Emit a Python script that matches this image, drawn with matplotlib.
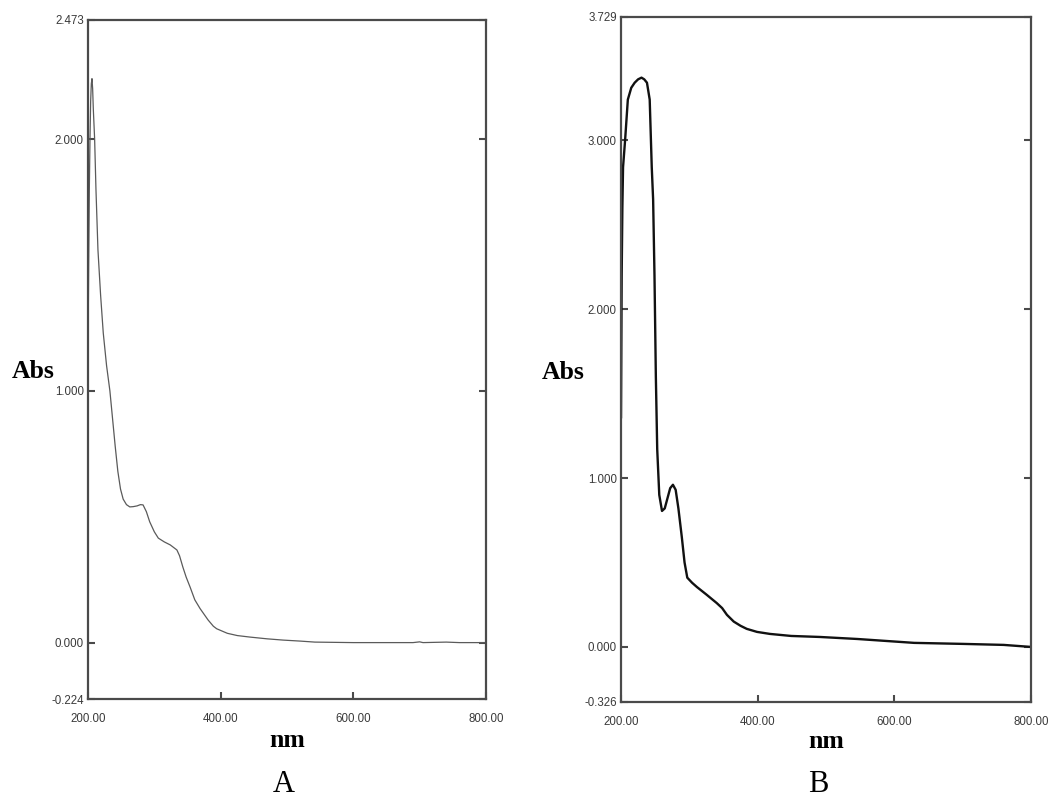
import matplotlib
matplotlib.use("Agg")
import matplotlib.pyplot as plt
from matplotlib.ticker import FixedLocator, FormatStrFormatter

# ---------------- data ----------------
wl_a = [200, 201, 202, 203, 204, 205, 206, 207, 208, 210, 212, 215, 219, 223, 228,
        233, 237, 241, 245, 249, 253, 258, 263, 268, 274, 279, 283, 288, 293, 300,
        306, 315, 324, 334, 338, 343, 348, 354, 361, 369, 381, 389, 394, 410, 425,
        444, 470, 494, 520, 542, 600, 690, 700, 705, 740, 760, 800]
abs_a = [1.15, 1.50, 1.80, 2.00, 2.15, 2.22, 2.24, 2.20, 2.12, 2.00, 1.80, 1.56, 1.38, 1.23, 1.10,
         1.00, 0.89, 0.78, 0.68, 0.61, 0.57, 0.548, 0.539, 0.540, 0.543, 0.548, 0.547, 0.52, 0.48, 0.44,
         0.415, 0.40, 0.388, 0.368, 0.345, 0.30, 0.26, 0.22, 0.17, 0.135, 0.09, 0.065, 0.055, 0.037, 0.028,
         0.022, 0.015, 0.010, 0.006, 0.002, 0.0, 0.0, 0.003, 0.0, 0.002, 0.0, 0.0]

wl_b = [200, 201, 202, 203, 206, 210, 215, 220, 225, 230, 234, 238, 242, 245, 247,
        249, 251, 253, 256, 260, 264, 268, 272, 276, 280, 284, 289, 293, 297, 304,
        311, 325, 340, 348, 355, 365, 375, 384, 399, 418, 449, 491, 546, 629, 700,
        760, 790, 800]
abs_b = [1.36, 2.20, 2.60, 2.84, 3.00, 3.24, 3.31, 3.34, 3.36, 3.37, 3.36, 3.34, 3.24, 2.84, 2.65,
         2.20, 1.60, 1.17, 0.90, 0.805, 0.82, 0.88, 0.94, 0.96, 0.93, 0.82, 0.65, 0.50, 0.41, 0.38,
         0.355, 0.31, 0.26, 0.23, 0.19, 0.15, 0.125, 0.107, 0.089, 0.077, 0.065, 0.059, 0.047, 0.024, 0.018,
         0.012, 0.003, 0.0]

x_ticks = [200, 400, 600, 800]
ylim_a = (-0.224, 2.473)
yticks_a = [-0.224, 0.0, 1.0, 2.0, 2.473]
ylim_b = (-0.326, 3.729)
yticks_b = [-0.326, 0.0, 1.0, 2.0, 3.0, 3.729]

x_label = "nm"
y_label = "Abs"
panel_names = ["A", "B"]

# ---------------- figure ----------------
W, H = 1048, 798
fig = plt.figure(figsize=(W / 100, H / 100), dpi=100)
fig.patch.set_facecolor("white")

def fx(px):
    return px / W

def fy(py):
    return 1 - py / H

spine_col = "#4a4a4a"

def setup(ax, ylim, yticks):
    ax.set_xlim(200, 800)
    ax.set_ylim(*ylim)
    ax.xaxis.set_major_locator(FixedLocator(x_ticks))
    ax.yaxis.set_major_locator(FixedLocator(yticks))
    ax.xaxis.set_major_formatter(FormatStrFormatter("%.2f"))
    ax.yaxis.set_major_formatter(FormatStrFormatter("%.3f"))
    ax.tick_params(axis="both", direction="in", length=5, width=1.5, color=spine_col,
                   labelcolor="#3a3a3a", labelsize=8.3)
    ax.tick_params(axis="y", right=True, pad=3)
    ax.tick_params(axis="x", pad=10)
    for lab in ax.get_xticklabels() + ax.get_yticklabels():
        lab.set_family("Liberation Sans")
    for s in ax.spines.values():
        s.set_color(spine_col)
        s.set_linewidth(1.6)

# Panel A
axA = fig.add_axes([fx(88), fy(699), fx(486 - 88), (699 - 20) / H])
axA.plot(wl_a, abs_a, color="#5a5a5a", lw=0.9)
setup(axA, ylim_a, yticks_a)

# Panel B
axB = fig.add_axes([fx(621), fy(702), fx(1031 - 621), (702 - 17) / H])
axB.plot(wl_b, abs_b, color="#111111", lw=1.7)
setup(axB, ylim_b, yticks_b)

serif = "Liberation Serif"
fig.text(fx(12), fy(378), y_label, fontsize=18.5, fontweight="bold", family=serif,
         ha="left", va="baseline")
fig.text(fx(542), fy(379), y_label, fontsize=18.5, fontweight="bold", family=serif,
         ha="left", va="baseline")
fig.text(fx(287), fy(747), x_label, fontsize=18.5, fontweight="bold", family=serif,
         ha="center", va="baseline")
fig.text(fx(826), fy(748), x_label, fontsize=18.5, fontweight="bold", family=serif,
         ha="center", va="baseline")
fig.text(fx(284), fy(792), panel_names[0], fontsize=22, family=serif,
         ha="center", va="baseline")
fig.text(fx(818), fy(792), panel_names[1], fontsize=22, family=serif,
         ha="center", va="baseline")

fig.savefig("out.png", dpi=100, facecolor="white")
